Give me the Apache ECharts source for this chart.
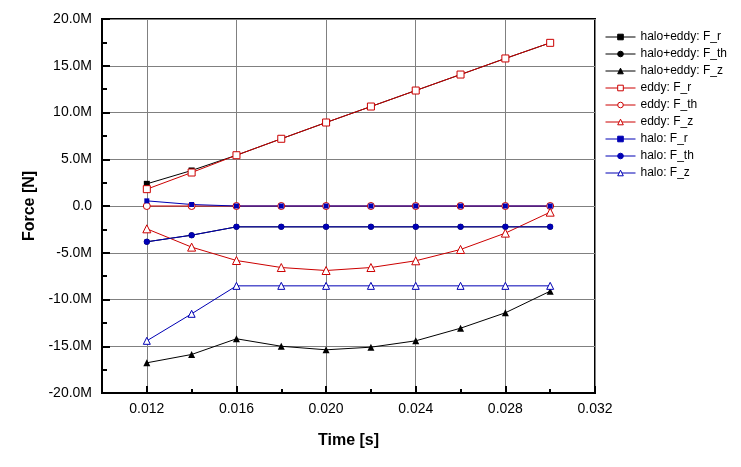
<!DOCTYPE html>
<html>
<head>
<meta charset="utf-8">
<script src="https://cdn.jsdelivr.net/npm/echarts@6/dist/echarts.min.js"></script>
<style>
html,body{margin:0;padding:0;background:#fff;}
#chart{width:741px;height:467px;}
</style>
</head>
<body>
<div id="chart"></div>
<script>
// Time [s]
var times = [0.012, 0.014, 0.016, 0.018, 0.020, 0.022, 0.024, 0.026, 0.028, 0.030];
// Forces in MN
var haloEddyFr  = [2.37, 3.80, 5.43, 7.19, 8.93, 10.64, 12.35, 14.06, 15.78, 17.45];
var haloEddyFth = [-3.83, -3.12, -2.23, -2.23, -2.23, -2.23, -2.23, -2.23, -2.23, -2.23];
var haloEddyFz  = [-16.77, -15.88, -14.20, -15.00, -15.38, -15.10, -14.42, -13.07, -11.42, -9.11];
var eddyFr  = [1.80, 3.58, 5.43, 7.19, 8.93, 10.64, 12.35, 14.06, 15.78, 17.45];
var eddyFth = [0, 0, 0, 0, 0, 0, 0, 0, 0, 0];
var eddyFz  = [-2.44, -4.40, -5.83, -6.58, -6.90, -6.58, -5.86, -4.65, -2.90, -0.66];
var haloFr  = [0.55, 0.16, 0, 0, 0, 0, 0, 0, 0, 0];
var haloFth = [-3.83, -3.12, -2.23, -2.23, -2.23, -2.23, -2.23, -2.23, -2.23, -2.23];
var haloFz  = [-14.42, -11.53, -8.54, -8.54, -8.54, -8.54, -8.54, -8.54, -8.54, -8.54];

var seriesNames = ['halo+eddy: F_r','halo+eddy: F_th','halo+eddy: F_z','eddy: F_r','eddy: F_th','eddy: F_z','halo: F_r','halo: F_th','halo: F_z'];
var xMajorTicks = [0.012, 0.016, 0.020, 0.024, 0.028, 0.032];

function pairs(vals){ return times.map(function(t,i){ return [t, vals[i]]; }); }

var BLACK = '#000000', RED = '#CC0000', BLUE = '#0000B4';
var FONT = 'Liberation Sans, Arial, sans-serif';

function mk(name, vals, color, symbol, size, open){
  return {
    name: name, type: 'line', xAxisIndex: 0, data: pairs(vals),
    symbol: symbol, symbolSize: size, showSymbol: true,
    lineStyle: {color: color, width: 1},
    itemStyle: open ? {color: '#ffffff', borderColor: color, borderWidth: 1} : {color: color, borderColor: color, borderWidth: 0},
    emphasis: {disabled: true},
    animation: false
  };
}

var chart = echarts.init(document.getElementById('chart'), null, {renderer: 'canvas'});
chart.setOption({
  backgroundColor: '#ffffff',
  animation: false,
  textStyle: {fontFamily: FONT},
  grid: {left: 102, top: 19, right: 146, bottom: 74, show: true, borderColor: '#000', borderWidth: 2, backgroundColor: '#fff'},
  legend: {
    orient: 'vertical', left: 605, top: 30, padding: 0,
    itemWidth: 30, itemHeight: 7, itemGap: 3,
    lineStyle: {width: 1},
    itemStyle: {borderWidth: 1},
    textStyle: {fontFamily: FONT, fontSize: 12, color: '#000', lineHeight: 14},
    data: seriesNames
  },
  xAxis: [{
    type: 'value', min: 0.010, max: 0.032, interval: 0.002, position: 'bottom',
    axisLine: {show: true, onZero: false, lineStyle: {color: '#000', width: 2}},
    axisTick: {show: true, inside: true, length: 4, lineStyle: {color: '#000', width: 2}},
    axisLabel: {show: false},
    splitLine: {show: false}
  }, {
    type: 'value', min: 0.010, max: 0.032, position: 'bottom', offset: 0,
    axisLine: {show: false, onZero: false},
    axisTick: {show: true, inside: true, length: 7, customValues: xMajorTicks, lineStyle: {color: '#000', width: 2}},
    axisLabel: {show: true, customValues: xMajorTicks, margin: 9, fontSize: 14, color: '#000', fontFamily: FONT,
      formatter: function(v){ return v.toFixed(3); }},
    splitLine: {show: true, lineStyle: {color: '#808080', width: 1}},
    name: 'Time [s]', nameLocation: 'middle', nameGap: 40,
    nameTextStyle: {fontSize: 16, fontWeight: 'bold', color: '#000', fontFamily: FONT}
  }],
  yAxis: {
    type: 'value', min: -20, max: 20, interval: 5,
    axisLine: {show: true, onZero: false, lineStyle: {color: '#000', width: 2}},
    axisTick: {show: true, inside: true, length: 8, lineStyle: {color: '#000', width: 2}},
    minorTick: {show: true, splitNumber: 2, length: 5, lineStyle: {color: '#000', width: 2}},
    axisLabel: {margin: 10, fontSize: 14, color: '#000', fontFamily: FONT,
      formatter: function(v){ return v === 0 ? '0.0' : v.toFixed(1) + 'M'; }},
    splitLine: {show: true, lineStyle: {color: '#808080', width: 1}},
    name: 'Force [N]', nameLocation: 'middle', nameGap: 64, nameRotate: 90,
    nameTextStyle: {fontSize: 16, fontWeight: 'bold', color: '#000', fontFamily: FONT}
  },
  series: [
    mk(seriesNames[0], haloEddyFr, BLACK, 'rect', 6, false),
    mk(seriesNames[1], haloEddyFth, BLACK, 'circle', 6, false),
    mk(seriesNames[2], haloEddyFz, BLACK, 'triangle', 7, false),
    mk(seriesNames[3], eddyFr, RED, 'rect', 7, true),
    mk(seriesNames[4], eddyFth, RED, 'circle', 7, true),
    mk(seriesNames[5], eddyFz, RED, 'triangle', 8, true),
    mk(seriesNames[6], haloFr, BLUE, 'rect', 5, false),
    mk(seriesNames[7], haloFth, BLUE, 'circle', 6, false),
    mk(seriesNames[8], haloFz, BLUE, 'triangle', 7, true)
  ]
});
</script>
</body>
</html>
